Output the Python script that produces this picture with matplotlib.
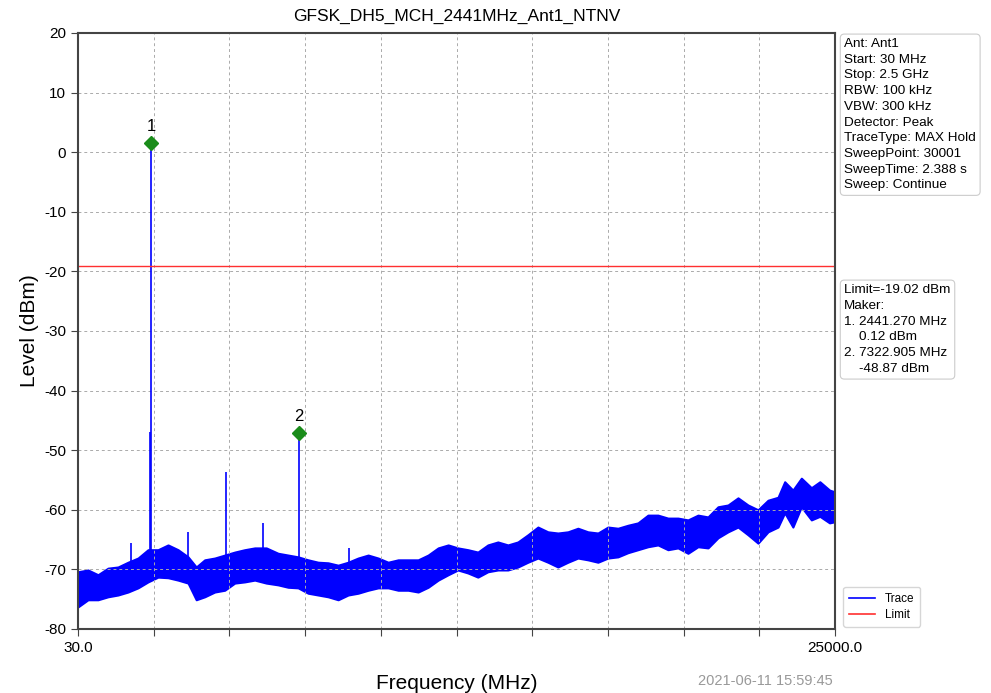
import matplotlib
matplotlib.use("Agg")
import matplotlib.pyplot as plt
from matplotlib.lines import Line2D

plt.rcParams['font.family'] = ['Liberation Sans', 'DejaVu Sans']
plt.rcParams['axes.unicode_minus'] = False

title = "GFSK_DH5_MCH_2441MHz_Ant1_NTNV"
x_start, x_stop = 30.0, 25000.0
limit = -19.02

# Noise floor envelope
env_freq = [30, 360, 690, 1020, 1350, 1680, 2010, 2340, 2670, 3000, 3330, 3660, 3930, 4210,
            4540, 4870, 5200, 5530, 5860, 6240, 6630, 6960, 7290, 7620, 7950, 8280, 8610,
            8940, 9270, 9600, 9930, 10260, 10590, 10920, 11250, 11580, 11910, 12240, 12560,
            12890, 13220, 13550, 13880, 14210, 14540, 14870, 15200, 15530, 15860, 16190,
            16520, 16850, 17180, 17510, 17840, 18170, 18500, 18830, 19160, 19490, 19820,
            20150, 20480, 20810, 21140, 21470, 21800, 22130, 22460, 22790, 23120, 23340,
            23610, 23890, 24220, 24500, 24820, 25000]
env_high = [-70.4, -70.1, -70.9, -69.8, -69.6, -68.8, -68.1, -66.7, -66.7, -65.9, -66.7,
            -67.9, -69.6, -68.4, -68.1, -67.6, -67.1, -66.7, -66.4, -66.4, -67.3, -67.6,
            -67.9, -68.4, -68.8, -68.9, -69.3, -68.8, -68.1, -67.6, -68.1, -68.8, -68.4,
            -68.4, -68.4, -67.6, -66.4, -65.9, -66.4, -66.7, -67.1, -65.9, -65.4, -65.9,
            -65.4, -64.2, -62.9, -63.7, -63.9, -63.7, -63.1, -63.7, -63.9, -62.9, -63.1,
            -62.6, -62.2, -60.9, -60.9, -61.4, -61.4, -61.7, -60.9, -61.2, -59.5, -59.2,
            -58.0, -59.2, -60.0, -58.4, -57.9, -55.3, -56.7, -54.7, -56.3, -55.3, -56.7,
            -57.0]
env_low = [-76.3, -75.1, -75.1, -74.6, -74.3, -73.8, -73.1, -72.1, -71.3, -71.4, -71.8,
           -72.3, -75.1, -74.6, -73.8, -73.5, -72.3, -72.1, -71.8, -72.3, -72.6, -73.0,
           -73.1, -74.0, -74.3, -74.6, -75.1, -74.3, -74.0, -73.5, -73.1, -73.1, -73.5,
           -73.5, -73.8, -73.0, -71.8, -70.9, -70.1, -70.6, -71.3, -70.4, -70.1, -70.1,
           -69.6, -68.8, -68.1, -68.8, -69.6, -68.8, -68.1, -68.4, -68.8, -68.1, -67.9,
           -67.2, -66.7, -66.2, -65.9, -66.7, -66.4, -67.3, -66.2, -66.4, -64.7, -63.7,
           -62.9, -64.2, -65.6, -63.7, -62.9, -60.5, -62.9, -59.5, -61.7, -61.1, -62.2,
           -62.0]

# Discrete spurs (freq MHz, peak dBm, base dBm)
spur_freq = [1780, 2400, 2441.27, 3660, 4910, 6130, 7322.905, 8970]
spur_peak = [-65.6, -47.0, 1.5, -63.7, -53.7, -62.2, -47.2, -66.4]
spur_base = [-69.0, -68.0, -68.0, -68.0, -69.0, -68.5, -69.0, -69.5]

# Markers
mk_label = ["1", "2"]
mk_freq = [2441.27, 7322.905]
mk_level = [1.5, -47.2]

info_text = ("Ant: Ant1\nStart: 30 MHz\nStop: 2.5 GHz\nRBW: 100 kHz\nVBW: 300 kHz\n"
             "Detector: Peak\nTraceType: MAX Hold\nSweepPoint: 30001\nSweepTime: 2.388 s\n"
             "Sweep: Continue")
marker_text = ("Limit=-19.02 dBm\nMaker:\n1. 2441.270 MHz\n    0.12 dBm\n"
               "2. 7322.905 MHz\n    -48.87 dBm")
timestamp = "2021-06-11 15:59:45"

fig = plt.figure(figsize=(9.91, 6.93), dpi=100)
ax = fig.add_axes([0.0787, 0.0924, 0.7639, 0.86])

ax.fill_between(env_freq, env_low, env_high, color='#0000ff', linewidth=1.5, edgecolor='#0000ff')
ax.vlines(spur_freq, spur_base, spur_peak, color='#0000ff', linewidth=1.2)
ax.axhline(limit, color='#ff3030', linewidth=1.0)
ax.plot(mk_freq, mk_level, linestyle='none', marker='D', color='#1a8c1a', markersize=7)
for lab, f, v in zip(mk_label, mk_freq, mk_level):
    ax.annotate(lab, (f, v), xytext=(0, 7), textcoords='offset points', ha='center',
                va='bottom', fontsize=12)

ax.set_xlim(x_start, x_stop)
ax.set_ylim(-80, 20)
step = (x_stop - x_start) / 10
xt = [x_start + i * step for i in range(11)]
ax.set_xticks(xt)
ax.set_xticklabels(["30.0"] + [""] * 9 + ["25000.0"])
ax.set_yticks(range(-80, 21, 10))
ax.tick_params(labelsize=11, length=5, color='#444444')
ax.grid(True, linestyle=(0, (3, 3)), color='#aaaaaa', linewidth=0.7)
for s in ax.spines.values():
    s.set_color('#444444')
    s.set_linewidth(1.5)

ax.set_title(title, fontsize=12.5, pad=9)
ax.set_xlabel("Frequency (MHz)", fontsize=15, labelpad=14)
ax.set_ylabel("Level (dBm)", fontsize=15, labelpad=4)

bbox = dict(boxstyle='round,pad=0.3', facecolor='white', edgecolor='#cccccc', linewidth=0.8)
fig.text(0.852, 0.945, info_text, fontsize=9.7, va='top', ha='left', linespacing=1.41, bbox=bbox)
fig.text(0.852, 0.590, marker_text, fontsize=9.7, va='top', ha='left', linespacing=1.42, bbox=bbox)
fig.text(0.704, 0.007, timestamp, fontsize=10.5, color='#999999', ha='left', va='bottom')

handles = [Line2D([], [], color='#0000ff', lw=1.2), Line2D([], [], color='#ff3030', lw=1.2)]
fig.legend(handles, ["Trace", "Limit"], loc='lower left', bbox_to_anchor=(0.845, 0.087),
           fontsize=8.5, frameon=True, handlelength=2.2, borderpad=0.5, labelspacing=0.35,
           fancybox=True, edgecolor='#cccccc')

fig.savefig("out.png", dpi=100)
